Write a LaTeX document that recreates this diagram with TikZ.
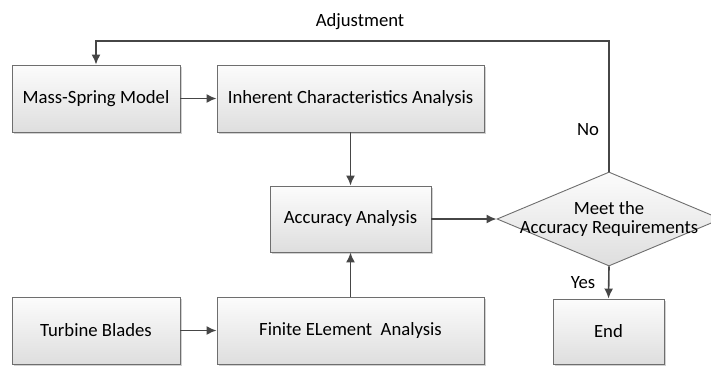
\documentclass[tikz,border=0pt]{standalone}
\usepackage{fontspec}
\setmainfont{Carlito}
\usetikzlibrary{shapes.geometric,arrows.meta,shadows}

\definecolor{boxline}{RGB}{110,110,110}
\definecolor{flowline}{RGB}{70,70,70}
\definecolor{boxtop}{RGB}{252,252,252}
\definecolor{boxbot}{RGB}{222,222,222}

\tikzset{
  stepbox/.style={draw=boxline,line width=0.9pt,top color=boxtop,bottom color=boxbot,
    inner sep=0pt,minimum height=67pt,
    drop shadow={shadow xshift=2pt,shadow yshift=-2pt,fill=black!18,opacity=1}},
  decision/.style={diamond,draw=boxline,line width=0.9pt,top color=boxtop,bottom color=boxbot,
    inner sep=0pt,minimum width=224pt,minimum height=94pt},
  flow/.style={draw=flowline,line width=1.6pt,-{Latex[length=10pt,width=9pt]}}
}

\begin{document}
\begin{tikzpicture}[x=1pt,y=-1pt,font=\fontsize{18.7}{22}\selectfont]
  \useasboundingbox (0,0) rectangle (711,365);
  % top row
  \node[stepbox,minimum width=168pt] (mass) at(96,98.5){Mass-Spring Model};
  \node[stepbox,minimum width=267pt] (inher) at(350.5,98.5){Inherent Characteristics Analysis};
  % middle row
  \node[stepbox,minimum width=161pt,minimum height=66pt] (acc) at(350.5,219){Accuracy Analysis};
  \node[decision] (meet) at(609,219){};
  \node[align=center,inner sep=0pt] (meettext) at(609,219){Meet the\\[-3pt]Accuracy Requirements};
  % bottom row
  \node[stepbox,minimum width=168pt] (blade) at(96,330.5){Turbine Blades};
  \node[stepbox,minimum width=267pt] (fem) at(350.5,330.5){Finite ELement~~Analysis};
  \node[stepbox,minimum width=111pt,minimum height=65pt] (end) at(608.5,331.5){End};
  % corners of the loop
  \coordinate (upR) at(609,41);
  \coordinate (upL) at(96,41);
  % arrows
  \draw[flow] (mass) -- (inher);
  \draw[flow] (blade) -- (fem);
  \draw[flow] (inher) -- (acc);
  \draw[flow] (fem) -- (acc);
  \draw[flow] (acc) -- (meet);
  \draw[flow] (meet.south) -- (end.north);
  \draw[flow] (meet.north) -- (upR) -- (upL) -- (mass.north);
  % labels
  \node (adj) at(360,22){Adjustment};
  \node (no) at(588,130){No};
  \node (yes) at(583,283){Yes};
\end{tikzpicture}
\end{document}
